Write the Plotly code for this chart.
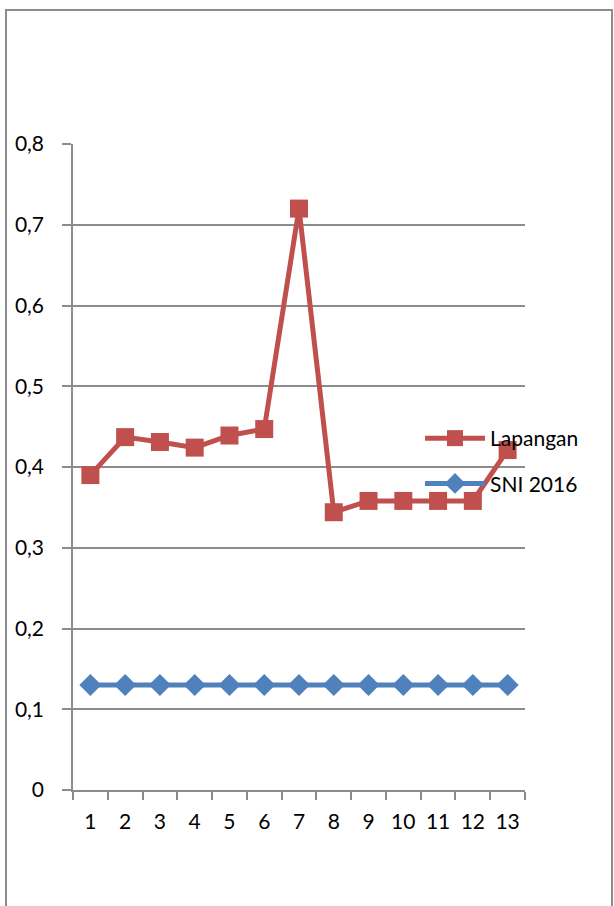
import plotly.graph_objects as go

categories = ["1", "2", "3", "4", "5", "6", "7", "8", "9", "10", "11", "12", "13"]
lapangan = [0.39, 0.437, 0.431, 0.424, 0.439, 0.447, 0.72, 0.344, 0.358, 0.358, 0.358, 0.358, 0.421]
sni_2016 = [0.13] * 13
y_tickvals = [0, 0.1, 0.2, 0.3, 0.4, 0.5, 0.6, 0.7, 0.8]
y_ticktext = ["0", "0,1", "0,2", "0,3", "0,4", "0,5", "0,6", "0,7", "0,8"]

RED = "#C0504D"
BLUE = "#4F81BD"
GRID = "#8c8c8c"

fig = go.Figure()
fig.add_trace(go.Scatter(
    x=categories, y=lapangan, name="Lapangan", mode="lines+markers",
    legendgroup="a",
    line=dict(color=RED, width=5),
    marker=dict(symbol="square", size=18, color=RED),
))
fig.add_trace(go.Scatter(
    x=categories, y=sni_2016, name="SNI 2016", mode="lines+markers",
    legendgroup="b",
    line=dict(color=BLUE, width=5),
    marker=dict(symbol="diamond", size=17, color=BLUE),
))

L, R, T, B = 73, 525, 144, 790
W, H = 614, 906
pw, ph = R - L, B - T

def px(x):
    return (x - L) / pw

def py(y):
    return (B - y) / ph

fig.update_layout(
    width=W, height=H,
    margin=dict(l=L, r=W - R, t=T, b=H - B, pad=0),
    paper_bgcolor="white", plot_bgcolor="white",
    font=dict(family="Lato, Open Sans, sans-serif", size=21, color="black"),
    showlegend=True,
    legend=dict(
        x=px(420), y=py(418), xanchor="left", yanchor="top",
        bgcolor="rgba(0,0,0,0)", font=dict(size=21), itemwidth=60,
        tracegroupgap=15, traceorder="grouped",
    ),
    xaxis=dict(
        type="category", showgrid=False, showline=True, linecolor=GRID, linewidth=1.5,
        ticks="outside", tickson="boundaries", ticklen=8, tickcolor=GRID, tickwidth=1.5,
        range=[-0.5, 12.5], zeroline=False, fixedrange=True, ticklabelstandoff=12,
    ),
    yaxis=dict(
        range=[0, 0.8], tickvals=y_tickvals, ticktext=y_ticktext,
        showgrid=True, gridcolor=GRID, gridwidth=1.5,
        showline=True, linecolor=GRID, linewidth=1.5,
        ticks="outside", ticklen=9, tickcolor=GRID, tickwidth=1.5,
        zeroline=False, fixedrange=True, ticklabelstandoff=14,
    ),
    shapes=[dict(
        type="rect", xref="paper", yref="paper",
        x0=px(6), x1=px(612), y0=py(10), y1=py(930),
        line=dict(color="#8c8c8c", width=2), fillcolor="rgba(0,0,0,0)", layer="below",
    )],
)

fig.write_html("out.html")
